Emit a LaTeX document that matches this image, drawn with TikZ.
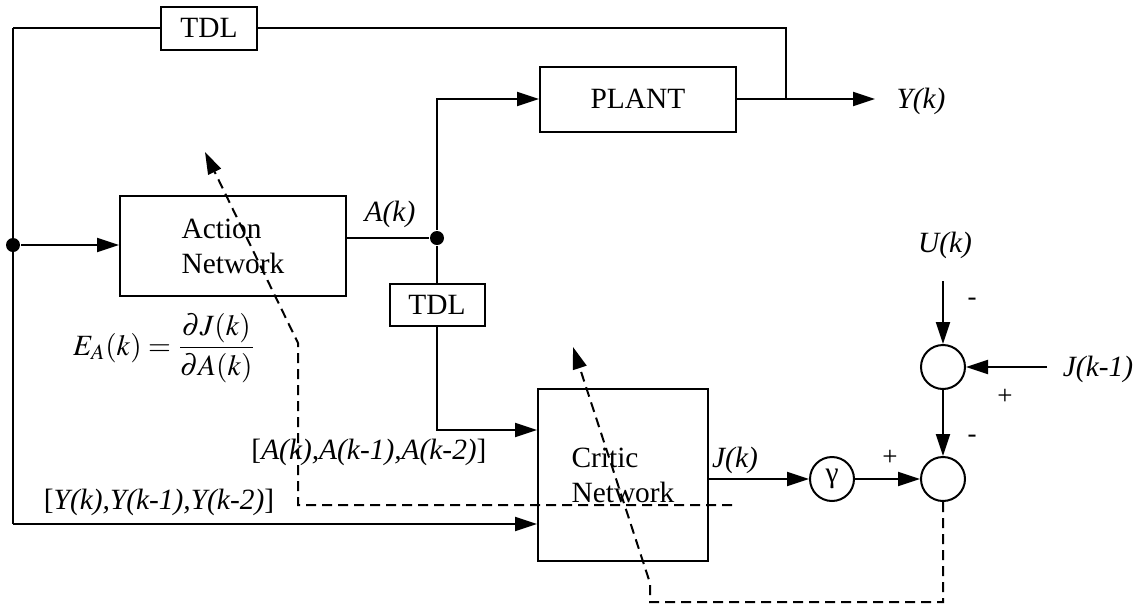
\documentclass[tikz,border=0pt]{standalone}
\usepackage{mathptmx}
\usepackage{fontspec}
\setmainfont{Liberation Serif}
\usetikzlibrary{arrows.meta,positioning,calc}

\begin{document}
\begin{tikzpicture}[
    x=0.5pt, y=-0.5pt,
    font=\fontsize{14.7}{17.5}\selectfont,
    line width=1pt,
    box/.style={rectangle, draw, inner sep=0pt},
    arr/.style={-{Triangle[length=11pt,width=7pt]}},
    darr/.style={arr, dash pattern=on 5pt off 3pt},
    sumc/.style={circle, draw, minimum size=22pt, inner sep=0pt},
    dot/.style={circle, fill, minimum size=7pt, inner sep=0pt},
    sgn/.style={font=\fontsize{13.5}{15}\selectfont}
]
\useasboundingbox (0,0) rectangle (1148,606);
% Blocks
\node[box, minimum width=48pt, minimum height=21.5pt] (tdlY) at (209,28) {TDL};
\node[box, minimum width=98pt, minimum height=32.5pt] (plant) at (638,99) {PLANT};
\node[box, minimum width=113pt, minimum height=50pt, align=left] (action) at (233,246)
     {Action\\Network};
\node[box, minimum width=47.5pt, minimum height=21pt] (tdlA) at (437,305) {TDL};
\node[box, minimum width=85pt, minimum height=86pt, align=left] (critic) at (623,475)
     {Critic\\Network};
\node[sumc] (gam)  at (832,479) {γ};
\node[sumc] (sumU) at (943,367) {};
\node[sumc] (sumJ) at (943,479) {};
% Junctions and free ends
\node[dot] (jY) at (13,245) {};
\node[dot] (jA) at (437,238) {};
\coordinate (tl) at (13,28);
\coordinate (bl) at (13,524);
\coordinate (tap) at (786,99);
\coordinate (yend) at (875,99);
\coordinate (ustart) at (943,281);
\coordinate (jstart) at (1047,367);
% Labels
\node (yk)   at (921,101) {\textit{Y(k)}};
\node (ak)   at (390,214) {\textit{A(k)}};
\node (jk)   at (735,460) {\textit{J(k)}};
\node (uk)   at (945,245) {\textit{U(k)}};
\node (jk1)  at (1098,369) {\textit{J(k-1)}};
\node (avec) at (369,452) {[\textit{A(k),A(k-1),A(k-2)}]};
\node (yvec) at (159,502) {[\textit{Y(k),Y(k-1),Y(k-2)}]};
\node (ea)   at (164,348) {$E_A(k)=\displaystyle\frac{\partial J(k)}{\partial A(k)}$};
\node[sgn] (sg1) at (890,458) {+};
\node[sgn] (sg2) at (972,302) {-};
\node[sgn] (sg3) at (1005,397) {+};
\node[sgn] (sg4) at (972,439) {-};
% Signal paths
\draw (tl) -- (tdlY.west);
\draw (tdlY.east) -| (tap);
\draw (tl) -- (bl);
\draw[arr] (plant.east) -- (yend);
\draw[arr] (jY) -- (action.west |- jY);
\draw (action.east |- jA) -- (jA);
\draw[arr] (jA) |- (plant.west);
\draw (jA) -- (tdlA.north);
\draw[arr] (tdlA.south) |- ([yshift=22.5pt]critic.west);
\draw[arr] (bl) -- (critic.west |- bl);
\draw[arr] (critic.east |- gam) -- (gam);
\draw[arr] (gam) -- (sumJ);
\draw[arr] (ustart) -- (sumU);
\draw[arr] (jstart) -- (sumU);
\draw[arr] (sumU) -- (sumJ);
% Training signals (dashed)
\coordinate (c1) at (943,602);
\coordinate (c2) at (650,602);
\coordinate (c3) at (650,583);
\coordinate (c4) at (573,347);
\draw[darr] (sumJ.south) -- (c1) -- (c2) -- (c3) -- (c4);
\coordinate (a1) at (732,505);
\coordinate (a2) at (298,505);
\coordinate (a3) at (298,343);
\coordinate (a4) at (205,152);
\draw[darr] (a1) -- (a2) -- (a3) -- (a4);
\end{tikzpicture}
\end{document}
